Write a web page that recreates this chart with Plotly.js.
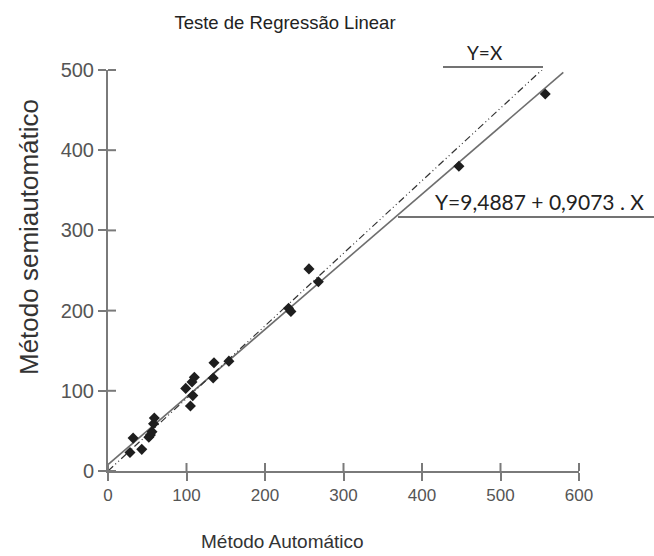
<!DOCTYPE html>
<html>
<head>
<meta charset="utf-8">
<script src="https://cdn.plot.ly/plotly-3.0.1.min.js"></script>
<style>html,body{margin:0;padding:0;background:#fff;}#chart{width:654px;height:556px;}</style>
</head>
<body>
<div id="chart"></div>
<script>
// Values
var chartTitle = "Teste de Regressão Linear";
var xTitle = "Método Automático";
var yTitle = "Método semiautomático";
var xTickVals = [0, 100, 200, 300, 400, 500, 600];
var yTickVals = [0, 100, 200, 300, 400, 500];
var xRange = [0, 600];
var yRange = [0, 500];

var autoX = [28, 32, 43, 52, 54, 56, 58, 59, 99, 105, 107, 108, 110, 134, 135, 154, 230, 233, 256, 268, 447, 557];
var semiY = [23, 41, 27, 42, 45, 49, 59, 66, 103, 81, 111, 94, 117, 116, 135, 137, 203, 199, 252, 236, 380, 470];

// Reference lines, endpoints as drawn in the picture
var identityX = [0, 557];
var identityY = [0, 504];
var fitX = [0, 580];
var fitY = [8, 497];

var identityLabel = "Y=X";
var fitLabel = "Y=9,4887 + 0,9073 . X";

var traces = [
  {x: fitX, y: fitY, mode: "lines", type: "scatter",
   line: {color: "#6e6e6e", width: 1.6}, hoverinfo: "skip"},
  {x: identityX, y: identityY, mode: "lines", type: "scatter",
   line: {color: "#333", width: 1.2, dash: "7px,3px,1px,3px,1px,3px"}, hoverinfo: "skip"},
  {x: autoX, y: semiY, mode: "markers", type: "scatter",
   marker: {symbol: "diamond", size: 8.5, color: "#1e1e1e"}, cliponaxis: false}
];

var tickColor = "#7a7a7a";
var axisCommon = {
  showgrid: false, zeroline: false, showline: true, linecolor: tickColor, linewidth: 2,
  ticks: "outside", ticklen: 8, tickwidth: 2, tickcolor: tickColor, fixedrange: true
};

var plotW = 654 - 108 - 75, plotH = 556 - 70 - 85;
// inner half of the crossing ticks, placed at the same tick values
var innerTickShapes = xTickVals.map(function (v) {
  var f = (v - xRange[0]) / (xRange[1] - xRange[0]);
  return {type: "line", xref: "paper", yref: "paper", x0: f, x1: f, y0: 0, y1: 8 / plotH,
          line: {color: tickColor, width: 2}};
}).concat(yTickVals.map(function (v) {
  var f = (v - yRange[0]) / (yRange[1] - yRange[0]);
  return {type: "line", xref: "paper", yref: "paper", x0: 0, x1: 8 / plotW, y0: f, y1: f,
          line: {color: tickColor, width: 2}};
}));

var layout = {
  width: 654, height: 556,
  margin: {l: 108, r: 75, t: 70, b: 85},
  paper_bgcolor: "#fff", plot_bgcolor: "#fff",
  showlegend: false, hovermode: false,
  font: {family: "Liberation Sans, Arial, sans-serif", color: "#333"},
  title: {text: chartTitle, x: 285/654, xanchor: "center", y: 1 - 23/556, yanchor: "middle",
          font: {size: 18.5, color: "#222", family: "Liberation Sans, Arial, sans-serif"}},
  xaxis: Object.assign({}, axisCommon, {
    range: xRange, tickvals: xTickVals, ticktext: xTickVals.map(String),
    tickfont: {size: 17, color: "#555"}
  }),
  yaxis: Object.assign({}, axisCommon, {
    range: yRange, tickvals: yTickVals, ticktext: yTickVals.map(String),
    tickfont: {size: 20, color: "#555"}
  }),
  shapes: innerTickShapes.concat([
    {type: "line", xref: "paper", yref: "paper", x0: (443-108)/plotW, x1: (543-108)/plotW,
     y0: (471-67)/plotH, y1: (471-67)/plotH, line: {color: "#444", width: 1.6}},
    {type: "line", xref: "paper", yref: "paper", x0: (398-108)/plotW, x1: (654-108)/plotW,
     y0: (471-217)/plotH, y1: (471-217)/plotH, line: {color: "#444", width: 1.6}}
  ]),
  annotations: [
    {text: xTitle, xref: "paper", yref: "paper", x: (282-108)/plotW, y: (471-541)/plotH,
     xanchor: "center", yanchor: "middle", showarrow: false,
     font: {size: 19, color: "#333", family: "Liberation Sans, Arial, sans-serif"}},
    {text: yTitle, xref: "paper", yref: "paper", x: (29-108)/plotW, y: (471-237)/plotH,
     xanchor: "center", yanchor: "middle", textangle: -90, showarrow: false,
     font: {size: 26, color: "#333", family: "Liberation Sans, Arial, sans-serif"}},
    {text: identityLabel, xref: "paper", yref: "paper", x: (485-108)/plotW, y: (471-66)/plotH,
     xanchor: "center", yanchor: "bottom", showarrow: false,
     font: {family: "Lato, Noto Sans, sans-serif", size: 19, color: "#222"}},
    {text: fitLabel, xref: "paper", yref: "paper", x: (433-108)/plotW, y: (471-216)/plotH,
     xanchor: "left", yanchor: "bottom", showarrow: false,
     font: {family: "Lato, Noto Sans, sans-serif", size: 21, color: "#222"}}
  ]
};

Plotly.newPlot("chart", traces, layout, {displayModeBar: false, staticPlot: true});
</script>
</body>
</html>
